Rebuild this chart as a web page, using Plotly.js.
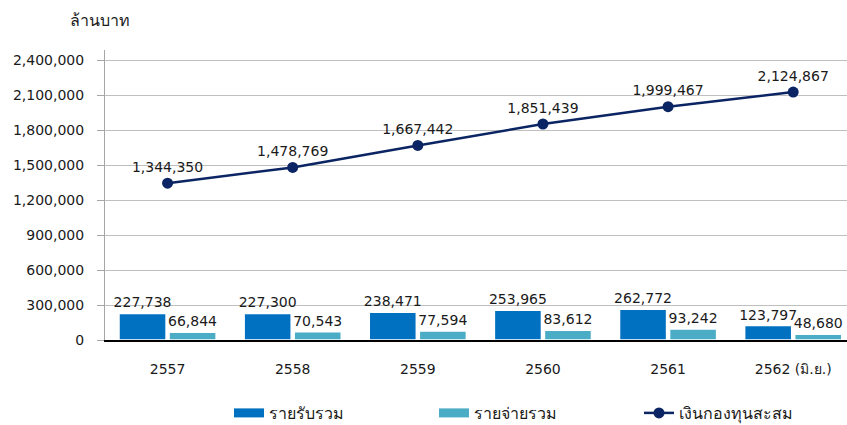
<!DOCTYPE html>
<html>
<head>
<meta charset="utf-8">
<script src="https://cdn.plot.ly/plotly-3.0.1.min.js"></script>
<style>html,body{margin:0;padding:0;background:#fff;}#chart{width:847px;height:425px;}</style>
</head>
<body>
<div id="chart"></div>
<script>
const years = ['2557', '2558', '2559', '2560', '2561', '2562 (มิ.ย.)'];
const income = [227738, 227300, 238471, 253965, 262772, 123797];
const expense = [66844, 70543, 77594, 83612, 93242, 48680];
const fund = [1344350, 1478769, 1667442, 1851439, 1999467, 2124867];
const yTicks = [0, 300000, 600000, 900000, 1200000, 1500000, 1800000, 2100000, 2400000];
const seriesNames = ['รายรับรวม', 'รายจ่ายรวม', 'เงินกองทุนสะสม'];
const colors = ['#0070C0', '#4BACC6', '#0B2463'];

const FONT = "'DejaVu Sans', Tahoma, 'Noto Sans', sans-serif";
const fmt = v => v.toLocaleString('en-US');
const labelFont = {family: FONT, size: 14, color: '#1a1a1a'};

const traces = [
  {
    type: 'bar', name: seriesNames[0], x: years, y: income, showlegend: false,
    marker: {color: colors[0], line: {color: '#ffffff', width: 1.5}},
    text: income.map(fmt), textposition: 'outside', cliponaxis: false, constraintext: 'none',
    textfont: labelFont
  },
  {
    type: 'bar', name: seriesNames[1], x: years, y: expense, showlegend: false,
    marker: {color: colors[1], line: {color: '#ffffff', width: 1.5}},
    text: expense.map(fmt), textposition: 'outside', cliponaxis: false, constraintext: 'none',
    textfont: labelFont
  },
  {
    type: 'scatter', mode: 'lines+markers+text', name: seriesNames[2], x: years, y: fund, showlegend: false,
    line: {color: colors[2], width: 2.5},
    marker: {color: colors[2], size: 11},
    text: fund.map(fmt), textposition: 'top center', cliponaxis: false,
    textfont: labelFont
  },
  // legend-only entries (wide swatches like the reference)
  {type: 'scatter', mode: 'lines', name: seriesNames[0], x: [null], y: [null], line: {color: colors[0], width: 9}},
  {type: 'scatter', mode: 'lines', name: seriesNames[1], x: [null], y: [null], line: {color: colors[1], width: 9}},
  {type: 'scatter', mode: 'lines+markers', name: seriesNames[2], x: [null], y: [null], line: {color: colors[2], width: 2.5}, marker: {color: colors[2], size: 11}}
];

const layout = {
  width: 847, height: 425,
  margin: {l: 105, r: 0, t: 50, b: 85},
  paper_bgcolor: '#ffffff', plot_bgcolor: '#ffffff',
  font: {family: FONT, size: 14, color: '#1a1a1a'},
  title: {text: 'ล้านบาท', x: 70/847, xref: 'container', xanchor: 'left', y: 1 - 20/425, yref: 'container', yanchor: 'middle', font: {family: FONT, size: 16, color: '#1a1a1a'}},
  barmode: 'group', bargap: 0.2, bargroupgap: 0.06,
  showlegend: true,
  legend: {orientation: 'h', x: 229/847, xanchor: 'left', xref: 'container', y: 1 - 413/425, yref: 'container', yanchor: 'middle', entrywidth: 160, itemwidth: 30, font: {family: FONT, size: 16, color: '#1a1a1a'}},
  xaxis: {
    type: 'category', range: [-0.5, 5.43], showgrid: false,
    showline: true, linecolor: '#000000', linewidth: 1.5,
    ticks: '', ticklabelstandoff: 16,
    tickfont: {family: FONT, size: 14, color: '#1a1a1a'}
  },
  yaxis: {
    range: [0, 2485714], tickvals: yTicks, ticktext: yTicks.map(fmt),
    showgrid: true, gridcolor: '#BFBFBF', gridwidth: 1,
    showline: true, linecolor: '#A6A6A6', linewidth: 1,
    ticks: 'outside', ticklen: 7, tickcolor: '#A6A6A6', ticklabelstandoff: 10,
    zeroline: false,
    tickfont: {family: FONT, size: 14, color: '#1a1a1a'}
  }
};

Plotly.newPlot('chart', traces, layout, {displayModeBar: false, staticPlot: true});
</script>
</body>
</html>
